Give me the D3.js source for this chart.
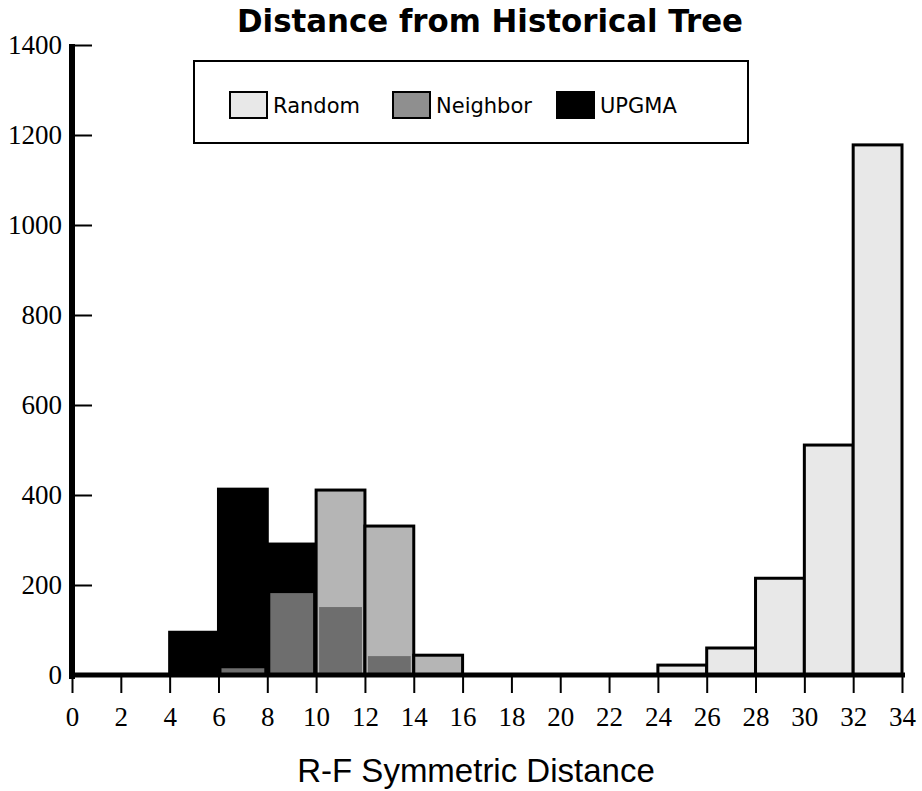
<!DOCTYPE html>
<html>
<head>
<meta charset="utf-8">
<script src="https://cdn.jsdelivr.net/npm/d3@7"></script>
<style>
  body { margin: 0; background: #fff; }
  svg { display: block; }
</style>
</head>
<body>
<svg width="922" height="791"></svg>
<script>
// bin left edges (width 2)
var binStarts = [0,2,4,6,8,10,12,14,16,18,20,22,24,26,28,30,32]
var binWidth = 2
var upgma    = [0,0,95,413,291,0,0,0,0,0,0,0,0,0,0,0,0]
var shaded   = [0,0,0,0,0,411,331,44,0,0,0,0,0,0,0,0,0]
var neighbor = [0,0,0,15,182,151,42,0,0,0,0,0,0,0,0,0,0]
var random   = [0,0,0,0,0,0,0,0,0,0,0,0,22,60,215,511,1178]
var xTicks = [0,2,4,6,8,10,12,14,16,18,20,22,24,26,28,30,32,34]
var yTicks = [0,200,400,600,800,1000,1200,1400]
var legendNames = ["Random","Neighbor","UPGMA"]

var svg = d3.select("svg")
var x = d3.scaleLinear().domain([0,34]).range([72,902])
var y = d3.scaleLinear().domain([0,1400]).range([675,45])

// title
svg.append("text")
    .attr("x", 490).attr("y", 32)
    .attr("text-anchor","middle")
    .attr("textLength", 506)
    .attr("lengthAdjust", "spacingAndGlyphs")
    .style("font-family","'DejaVu Sans', sans-serif")
    .style("font-weight","bold")
    .style("font-size","32px")
    .text("Distance from Historical Tree")

function drawBars(vals, cls, fill, stroke, inset) {
    var data = binStarts.map(function(b,i){ return {x0:b, v:vals[i]} })
        .filter(function(d){ return d.v > 0 })
    svg.append("g").attr("class", cls).selectAll("rect")
        .data(data).enter().append("rect")
        .attr("x", function(d){ return x(d.x0) + inset })
        .attr("width", function(d){ return x(d.x0+binWidth) - x(d.x0) - 2*inset })
        .attr("y", function(d){ return y(d.v) })
        .attr("height", function(d){ return y(0) - y(d.v) })
        .attr("fill", fill)
        .attr("stroke", stroke)
        .attr("stroke-width", stroke == "none" ? 0 : 3)
}

drawBars(upgma, "upgma", "#000", "#000", 0)
drawBars(shaded, "shaded", "#b5b5b5", "#000", 0)
drawBars(neighbor, "neighbor", "#6e6e6e", "none", 3)
drawBars(random, "random", "#e8e8e8", "#000", 0)

// x axis
var xAxis = d3.axisBottom(x).tickValues(xTicks).tickSize(17).tickPadding(14)
var gx = svg.append("g").attr("transform","translate(0,676)").call(xAxis)
gx.select(".domain").remove()
gx.selectAll(".tick line").attr("stroke","#000").attr("stroke-width",2)
gx.selectAll(".tick text")
    .style("font-family","'Liberation Serif', 'Times New Roman', serif")
    .style("font-size","27px")
    .attr("fill","#000")
svg.append("line")
    .attr("x1", x(0)-3).attr("x2", x(34)+3)
    .attr("y1", y(0)).attr("y2", y(0))
    .attr("stroke","#000").attr("stroke-width",5)

// y axis
var yAxis = d3.axisRight(y).tickValues(yTicks).tickSize(18).tickFormat(d3.format("d"))
var gy = svg.append("g").attr("transform","translate(74,0)").call(yAxis)
gy.select(".domain").remove()
gy.selectAll(".tick line").attr("stroke","#000").attr("stroke-width",2)
gy.selectAll(".tick text")
    .attr("x", -12)
    .attr("text-anchor","end")
    .style("font-family","'Liberation Serif', 'Times New Roman', serif")
    .style("font-size","27px")
    .attr("fill","#000")
svg.append("line")
    .attr("x1", 72).attr("x2", 72)
    .attr("y1", y(1400)-1).attr("y2", y(0)+4)
    .attr("stroke","#000").attr("stroke-width",6)

// x label
svg.append("text")
    .attr("x", 476).attr("y", 782)
    .attr("text-anchor","middle")
    .style("font-family","'Liberation Sans', Arial, sans-serif")
    .style("font-size","33px")
    .text("R-F Symmetric Distance")

// legend
var legend = svg.append("g")
legend.append("rect")
    .attr("x",194).attr("y",61).attr("width",554).attr("height",82)
    .attr("fill","#fff").attr("stroke","#000").attr("stroke-width",2)
var legendFills = ["#e8e8e8","#8f8f8f","#000"]
var legendX = [230, 393, 557]
var items = legend.selectAll("g.item").data(legendNames).enter().append("g")
    .attr("transform", function(d,i){ return "translate(" + legendX[i] + ",92)" })
items.append("rect")
    .attr("width",37).attr("height",26)
    .attr("fill", function(d,i){ return legendFills[i] })
    .attr("stroke","#000").attr("stroke-width",2)
items.append("text")
    .attr("x",43).attr("y",21)
    .style("font-family","'DejaVu Sans', sans-serif")
    .style("font-size","21px")
    .text(function(d){ return d })
</script>
</body>
</html>
